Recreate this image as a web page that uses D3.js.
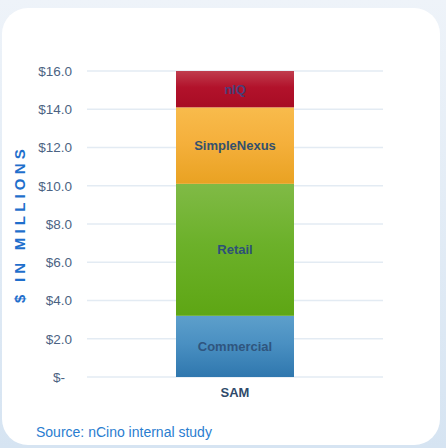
<!DOCTYPE html>
<html><head><meta charset="utf-8">
<script src="https://cdn.jsdelivr.net/npm/d3@7"></script>
<style>html,body{margin:0;padding:0;background:#e3edf6;}svg{display:block;}</style>
</head><body>
<script>
const categories = ["SAM"];
const segments = ["Commercial", "Retail", "SimpleNexus", "nIQ"];
const values = [3.2, 6.9, 4.0, 1.9];
const colorTop = ["#5d9fcb", "#80ba46", "#f8bb4c", "#c03d4e"];
const colorMid = ["#4a90c2", "#6cb12a", "#f5b03c", "#b2122b"];
const colorBot = ["#2f77ae", "#5ea614", "#e9a222", "#a80c24"];
const labelColors = ["#2f557e", "#2d5078", "#34506d", "#4a3f78"];
const tickValues = [0, 2, 4, 6, 8, 10, 12, 14, 16];
const tickLabels = ["$-", "$2.0", "$4.0", "$6.0", "$8.0", "$10.0", "$12.0", "$14.0", "$16.0"];
const yTitle = "$ IN MILLIONS";
const source = "Source: nCino internal study";

const W = 446, H = 448;
const svg = d3.select("body").append("svg").attr("width", W).attr("height", H);
const defs = svg.append("defs");

const bg = defs.append("linearGradient").attr("id","bg").attr("x1",0).attr("y1",0).attr("x2",0).attr("y2",1);
bg.append("stop").attr("offset","0").attr("stop-color","#eef3f9");
bg.append("stop").attr("offset","1").attr("stop-color","#d6e4f2");
svg.append("rect").attr("width",W).attr("height",H).attr("fill","url(#bg)");
svg.append("rect").attr("x",2).attr("y",8).attr("width",438).attr("height",437).attr("rx",26).attr("fill","#ffffff");

const x = d3.scaleBand().domain(categories).range([87, 383]).paddingInner(0.6).paddingOuter(0.3);
const y = d3.scaleLinear().domain([0, 16]).range([377, 71]);

// gridlines
svg.append("g").selectAll("line").data(tickValues).join("line")
  .attr("x1", 87).attr("x2", 383)
  .attr("y1", d => y(d)).attr("y2", d => y(d))
  .attr("stroke", "#e3ebf3").attr("stroke-width", 1.5);

// y axis
const yAxis = d3.axisLeft(y).tickValues(tickValues).tickSize(0).tickPadding(0)
  .tickFormat((d,i) => tickLabels[i]);
const ga = svg.append("g").attr("transform","translate(72,0)").call(yAxis);
ga.select(".domain").remove();
ga.selectAll("text").attr("font-family","Liberation Sans, Arial, sans-serif")
  .attr("font-size", 13.5).attr("fill","#4c6383")
  .attr("dx", d => d === 0 ? -7 : 0);

// stacked bars
const stackData = [Object.fromEntries(segments.map((s,i)=>[s, values[i]]))];
stackData[0].cat = categories[0];
const series = d3.stack().keys(segments)(stackData);

series.forEach((s, i) => {
  const g = defs.append("linearGradient").attr("id","g"+i).attr("x1",0).attr("y1",0).attr("x2",0).attr("y2",1);
  g.append("stop").attr("offset","0").attr("stop-color", colorTop[i]);
  g.append("stop").attr("offset","0.45").attr("stop-color", colorMid[i]);
  g.append("stop").attr("offset","1").attr("stop-color", colorBot[i]);
});

const gs = svg.append("g").selectAll("g").data(series).join("g");
gs.selectAll("rect").data((s) => s.map(d => Object.assign(d, {key: s.key, idx: s.index}))).join("rect")
  .attr("x", d => x(d.data.cat) + x.bandwidth()/2 - 59)
  .attr("width", 118)
  .attr("y", d => y(d[1]))
  .attr("height", d => y(d[0]) - y(d[1]))
  .attr("fill", d => `url(#g${d.idx})`);
gs.selectAll("text").data(s => s).join("text")
  .attr("x", d => x(d.data.cat) + x.bandwidth()/2)
  .attr("y", d => (y(d[0]) + y(d[1]))/2)
  .attr("dy", "0.35em")
  .attr("text-anchor","middle")
  .attr("font-family","Liberation Sans, Arial, sans-serif")
  .attr("font-weight","bold").attr("font-size", 13)
  .attr("fill", d => labelColors[d.idx])
  .text(d => d.key);

// x axis labels
svg.append("g").selectAll("text").data(categories).join("text")
  .attr("x", d => x(d) + x.bandwidth()/2).attr("y", 397)
  .attr("text-anchor","middle")
  .attr("font-family","Liberation Sans, Arial, sans-serif")
  .attr("font-weight","bold").attr("font-size", 13).attr("fill","#2f4a6b")
  .text(d => d);

// y title
svg.append("text").attr("transform","translate(25,224) rotate(-90)")
  .attr("text-anchor","middle")
  .attr("font-family","Liberation Sans, Arial, sans-serif")
  .attr("font-weight","bold").attr("font-size", 15).attr("letter-spacing", 4.2)
  .attr("fill","#1f6fcc")
  .text(yTitle);

// source
svg.append("text").attr("x", 36).attr("y", 437)
  .attr("font-family","Liberation Sans, Arial, sans-serif")
  .attr("font-size", 14).attr("fill","#2a7dd0")
  .text(source);
</script>
</body></html>
